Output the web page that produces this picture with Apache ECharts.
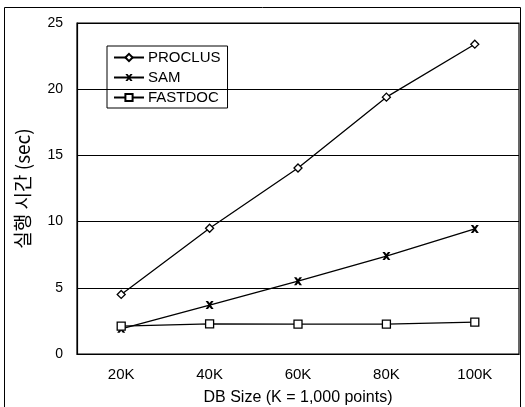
<!DOCTYPE html>
<html><head><meta charset="utf-8">
<script src="https://cdn.jsdelivr.net/npm/echarts@6/dist/echarts.min.js"></script>
<style>html,body{margin:0;padding:0;background:#fff}#c{width:525px;height:407px}</style>
</head><body><div id="c"></div>
<script>
const categories = ['20K','40K','60K','80K','100K'];
const proclus = [4.5, 9.5, 14.05, 19.4, 23.4];
const sam = [1.9, 3.7, 5.5, 7.4, 9.45];
const fastdoc = [2.1, 2.27, 2.25, 2.25, 2.4];
const yTicks = [0, 5, 10, 15, 20, 25];

const F = '"Liberation Sans", Arial, sans-serif';
const xPath = 'path://M0,0 L3,0 L5,2.5 L7,0 L10,0 L6.5,5 L10,10 L7,10 L5,7.5 L3,10 L0,10 L3.5,5 Z';
const chart = echarts.init(document.getElementById('c'));
const lineS = {color:'#000', width:1.3};
chart.setOption({
  animation:false,
  backgroundColor:'#fff',
  grid:{left:77, top:23, right:6, bottom:53, containLabel:false, outerBoundsMode:'none', show:true, borderColor:'#000', borderWidth:1.2},
  legend:{
    left:107, top:46, orient:'vertical', itemGap:5, itemWidth:30, itemHeight:9,
    padding:[4,7,3,6], borderColor:'#000', borderWidth:1,
    textStyle:{fontFamily:F, fontSize:15, color:'#000', padding:[0,0,0,-1]},
    data:['PROCLUS','SAM','FASTDOC']
  },
  xAxis:{
    type:'category', data:categories, boundaryGap:true,
    name:'DB Size (K = 1,000 points)', nameLocation:'middle', nameGap:36,
    nameTextStyle:{fontFamily:F, fontSize:16, color:'#000'},
    axisLine:{lineStyle:{color:'#000', width:1.2}},
    axisTick:{inside:true, length:4, lineStyle:{color:'#000'}},
    axisLabel:{fontFamily:F, fontSize:15, color:'#000', margin:13}
  },
  yAxis:{
    type:'value', min:0, max:25, interval:5,
    name:'실행 시간 (sec)', nameLocation:'middle', nameGap:45, nameRotate:90,
    nameTextStyle:{fontFamily:'"Noto Sans CJK KR", "Liberation Sans", sans-serif', fontSize:19, color:'#000'},
    axisLine:{show:true, lineStyle:{color:'#000', width:1.2}},
    axisTick:{show:false},
    axisLabel:{fontFamily:F, fontSize:14, color:'#000', margin:14,
      formatter:v=> yTicks.includes(v) ? String(v) : ''},
    splitLine:{show:true, lineStyle:{color:'#000', width:1}}
  },
  graphic:[{type:'rect', shape:{x:4.5, y:7.5, width:516, height:405}, style:{fill:null, stroke:'#000', lineWidth:1}, silent:true}],
  series:[
    {name:'PROCLUS', type:'line', data:proclus, symbol:'diamond', symbolSize:8, itemStyle:{color:'#fff', borderColor:'#000', borderWidth:1.3}, lineStyle:lineS},
    {name:'SAM', type:'line', data:sam, symbol:xPath, symbolSize:8, itemStyle:{color:'#000', borderColor:'#000', borderWidth:0}, lineStyle:lineS},
    {name:'FASTDOC', type:'line', data:fastdoc, symbol:'rect', symbolSize:8, itemStyle:{color:'#fff', borderColor:'#000', borderWidth:1.3}, lineStyle:lineS}
  ]
});
</script></body></html>
